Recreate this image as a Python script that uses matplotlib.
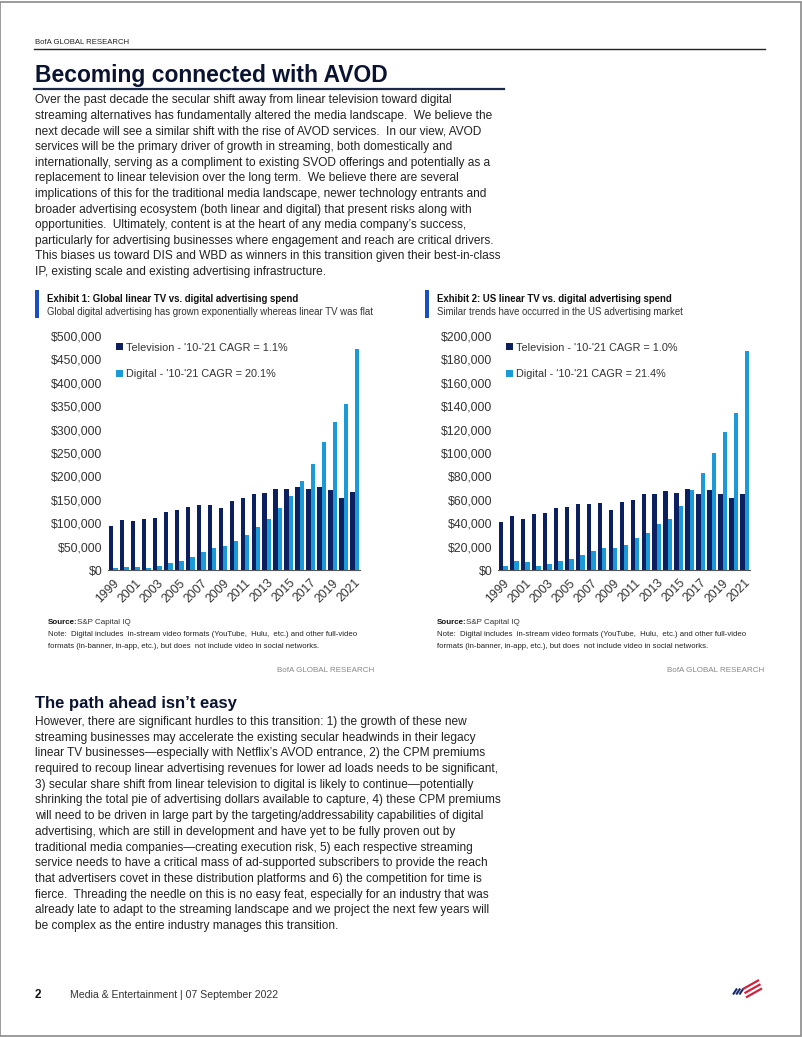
import matplotlib
matplotlib.use("Agg")
import matplotlib.pyplot as plt
from matplotlib.lines import Line2D
from matplotlib.patches import Rectangle
from matplotlib.ticker import FuncFormatter
import numpy as np

# ---------------- data ----------------
years = list(range(1999, 2022))
global_tv = [94, 106, 104, 108, 112, 125, 129, 135, 139, 139, 132, 147, 154, 162, 164,
             173, 173, 177, 173, 177, 171, 154, 166]
global_digital = [4, 7, 7, 5, 9, 14, 20, 28, 38, 47, 51, 62, 75, 91, 110,
                  132, 158, 191, 227, 273, 317, 354, 472]
us_tv = [40.7, 45.8, 43.2, 47.5, 48.4, 53.2, 54.0, 56.6, 56.6, 57.5, 51.5, 58.3, 60.0,
         65.0, 65.0, 67.4, 65.7, 69.0, 65.0, 68.3, 65.0, 61.7, 65.0]
us_digital = [3.7, 7.4, 6.5, 3.7, 5.4, 7.4, 9.7, 13.0, 16.5, 18.8, 18.8, 21.3, 27.3,
              31.6, 39.0, 44.0, 55.0, 68.3, 82.5, 100.0, 117.8, 134.0, 187.0]
global_tv = [v * 1000 for v in global_tv]
global_digital = [v * 1000 for v in global_digital]
us_tv = [v * 1000 for v in us_tv]
us_digital = [v * 1000 for v in us_digital]

legend1 = ["Television - '10-'21 CAGR = 1.1%", "Digital - '10-'21 CAGR = 20.1%"]
legend2 = ["Television - '10-'21 CAGR = 1.0%", "Digital - '10-'21 CAGR = 21.4%"]

TV_COLOR = "#0c1f5f"
DIG_COLOR = "#1b9ad8"
NAVY = "#0a1330"
TEXT = "#222222"

W, H = 802, 1037
fig = plt.figure(figsize=(W / 100, H / 100), dpi=100)
fig.patch.set_facecolor("white")

FONT = ["Liberation Sans", "DejaVu Sans"]


def T(x, y, s, size=9.5, weight="normal", color=TEXT, ha="left", va="baseline", family=None):
    fig.text(x / W, 1 - y / H, s, fontsize=size, fontweight=weight, color=color,
             ha=ha, va=va, family=family or FONT)


def HL(x0, x1, y, lw=1.0, color="#222222"):
    fig.add_artist(Line2D([x0 / W, x1 / W], [1 - y / H, 1 - y / H], lw=lw, color=color,
                          transform=fig.transFigure))


# page border
fig.add_artist(Rectangle((0.0005, 0.0005), 0.998, 0.998, transform=fig.transFigure,
                         fill=False, ec="#8a8a8a", lw=1.2))

# header
T(35, 44, "BofA GLOBAL RESEARCH", size=5.6, color="#222")
HL(34, 765, 48.5, lw=1.0, color="#222")

T(35, 82, "Becoming connected with AVOD", size=16.5, weight="bold", color=NAVY)
HL(34, 504, 89, lw=1.6, color="#1b2a4a")

body1 = [
    "Over the past decade the secular shift away from linear television toward digital",
    "streaming alternatives has fundamentally altered the media landscape.  We believe the",
    "next decade will see a similar shift with the rise of AVOD services.  In our view, AVOD",
    "services will be the primary driver of growth in streaming, both domestically and",
    "internationally, serving as a compliment to existing SVOD offerings and potentially as a",
    "replacement to linear television over the long term.  We believe there are several",
    "implications of this for the traditional media landscape, newer technology entrants and",
    "broader advertising ecosystem (both linear and digital) that present risks along with",
    "opportunities.  Ultimately, content is at the heart of any media company\u2019s success,",
    "particularly for advertising businesses where engagement and reach are critical drivers.",
    "This biases us toward DIS and WBD as winners in this transition given their best-in-class",
    "IP, existing scale and existing advertising infrastructure.",
]
for i, line in enumerate(body1):
    T(35, 103 + i * 15.65, line, size=8.55)

# ---------------- charts ----------------
def draw_chart(ax_left_px, tv, dig, ymax, step, legend_labels):
    left = ax_left_px / W
    bottom = 1 - 570 / H
    width = 252 / W
    height = 234 / H
    ax = fig.add_axes([left, bottom, width, height])
    x = np.arange(len(years))
    ax.bar(x - 0.2, tv, width=0.4, color=TV_COLOR, label=legend_labels[0], zorder=2)
    ax.bar(x + 0.2, dig, width=0.4, color=DIG_COLOR, label=legend_labels[1], zorder=2)
    ax.set_xlim(-0.5, len(years) - 0.5)
    ax.set_ylim(0, ymax)
    ax.set_yticks(np.arange(0, ymax + 1, step))
    ax.yaxis.set_major_formatter(FuncFormatter(lambda v, p: "${:,.0f}".format(v)))
    ax.set_xticks(x[::2])
    ax.set_xticklabels([str(y) for y in years[::2]], rotation=45, ha="right",
                       rotation_mode="anchor")
    for s in ["top", "right", "left"]:
        ax.spines[s].set_visible(False)
    ax.spines["bottom"].set_color("#555555")
    ax.spines["bottom"].set_linewidth(0.8)
    ax.tick_params(axis="both", length=0, pad=4)
    ax.tick_params(axis="x", pad=5)
    for lab in ax.get_yticklabels() + ax.get_xticklabels():
        lab.set_family(FONT)
        lab.set_fontsize(8.8)
        lab.set_color("#333333")
    ax.set_facecolor("white")
    leg = ax.legend(loc="upper left", bbox_to_anchor=(0.015, 0.99), frameon=False,
                    prop={"family": FONT, "size": 7.8}, handlelength=0.6,
                    handleheight=0.6, handletextpad=0.3, labelspacing=1.5,
                    borderaxespad=0.2, borderpad=0.2)
    for t in leg.get_texts():
        t.set_color("#333333")
    return ax


def exhibit_header(x, title, subtitle):
    fig.add_artist(Rectangle((x / W, 1 - 318 / H), 4 / W, 28 / H, transform=fig.transFigure,
                             color="#1a4fbf", lw=0))
    T(x + 12, 302, title, size=6.9, weight="bold", color="#111111")
    T(x + 12, 315, subtitle, size=6.9, color="#333333")


exhibit_header(35, "Exhibit 1: Global linear TV vs. digital advertising spend",
               "Global digital advertising has grown exponentially whereas linear TV was flat")
exhibit_header(425, "Exhibit 2: US linear TV vs. digital advertising spend",
               "Similar trends have occurred in the US advertising market")

draw_chart(108, global_tv, global_digital, 500000, 50000, legend1)
draw_chart(498, us_tv, us_digital, 200000, 20000, legend2)

# source notes
for x0, x_end in [(48, 374), (437, 764)]:
    T(x0, 624, "Source:", size=5.8, weight="bold", color="#111")
    T(x0 + 29, 624, "S&P Capital IQ", size=5.8, color="#333")
    T(x0, 636, "Note:  Digital includes  in-stream video formats (YouTube,  Hulu,  etc.) and other full-video",
      size=5.6, color="#222")
    T(x0, 648, "formats (in-banner, in-app, etc.), but does  not include video in social networks.",
      size=5.6, color="#222")
    T(x_end, 672, "BofA GLOBAL RESEARCH", size=5.8, color="#888888", ha="right")

# section 2
T(35, 708, "The path ahead isn\u2019t easy", size=12, weight="bold", color=NAVY)
body2 = [
    "However, there are significant hurdles to this transition: 1) the growth of these new",
    "streaming businesses may accelerate the existing secular headwinds in their legacy",
    "linear TV businesses\u2014especially with Netflix\u2019s AVOD entrance, 2) the CPM premiums",
    "required to recoup linear advertising revenues for lower ad loads needs to be significant,",
    "3) secular share shift from linear television to digital is likely to continue\u2014potentially",
    "shrinking the total pie of advertising dollars available to capture, 4) these CPM premiums",
    "will need to be driven in large part by the targeting/addressability capabilities of digital",
    "advertising, which are still in development and have yet to be fully proven out by",
    "traditional media companies\u2014creating execution risk, 5) each respective streaming",
    "service needs to have a critical mass of ad-supported subscribers to provide the reach",
    "that advertisers covet in these distribution platforms and 6) the competition for time is",
    "fierce.  Threading the needle on this is no easy feat, especially for an industry that was",
    "already late to adapt to the streaming landscape and we project the next few years will",
    "be complex as the entire industry manages this transition.",
]
for i, line in enumerate(body2):
    T(35, 725 + i * 15.7, line, size=8.55)

# footer
T(35, 998, "2", size=8.5, weight="bold", color="#111")
T(70, 998, "Media & Entertainment | 07 September 2022", size=7.6, color="#333")

# logo: slanted stripes
for i in range(3):
    xs = np.array([733 + i * 3.2, 737 + i * 3.2])
    ys = np.array([994.5, 988.5])
    fig.add_artist(Line2D(xs / W, 1 - ys / H, lw=1.5, color="#1a2a6c",
                          transform=fig.transFigure, solid_capstyle="butt"))
for i in range(3):
    xs = np.array([743 + i * 1.5, 759 + i * 1.5])
    ys = np.array([989 + i * 4.2, 980 + i * 4.2])
    fig.add_artist(Line2D(xs / W, 1 - ys / H, lw=1.6, color="#d4213d",
                          transform=fig.transFigure, solid_capstyle="butt"))

fig.savefig("out.png", dpi=100, facecolor="white")
